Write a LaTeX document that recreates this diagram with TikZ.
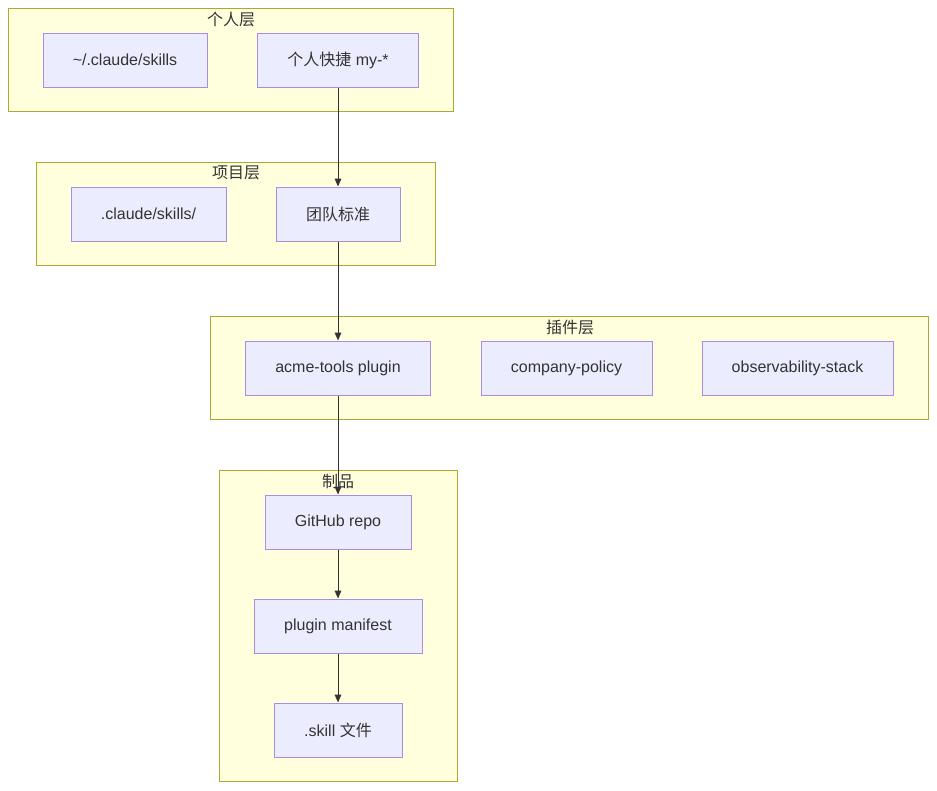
\documentclass[tikz,border=0pt]{standalone}
\usepackage{fontspec}
\setmainfont{Liberation Sans}
\newfontfamily\cjk{Noto Sans CJK SC}
\usetikzlibrary{arrows.meta}
\definecolor{layerfill}{HTML}{FFFFDE}
\definecolor{layerline}{HTML}{AAAA33}
\definecolor{boxfill}{HTML}{ECECFF}
\definecolor{boxline}{HTML}{9370DB}
\definecolor{ink}{HTML}{333333}
\tikzset{
	layer/.style={draw=layerline,fill=layerfill,line width=0.75pt},
	layertitle/.style={text=ink,font=\cjk\fontsize{12}{14}\selectfont,inner sep=0pt},
	item/.style={draw=boxline!80,fill=boxfill,line width=0.75pt,text=ink,
		font=\fontsize{12}{14}\selectfont,minimum height=40.5pt,inner sep=0pt},
	link/.style={draw=ink,line width=0.75pt,-{Triangle[length=6pt,width=5pt]}}
}
\begin{document}
\begin{tikzpicture}[x=0.75pt,y=-0.75pt]
	\useasboundingbox (0,0) rectangle (937,790);
		% layers
		\draw[layer] (8,8) rectangle (453,111);
		\node[layertitle] (tpersonal) at (231,19) {个人层};
		\draw[layer] (36,162) rectangle (435,265);
		\node[layertitle] (tproject) at (236,173) {项目层};
		\draw[layer] (210,316) rectangle (928,419);
		\node[layertitle] (tplugin) at (570,327) {插件层};
		\draw[layer] (219,470) rectangle (457,781);
		\node[layertitle] (tartifact) at (338,481) {制品};
			% nodes
			\node[item,minimum width=123pt] (homeskills) at (125,60) {\textasciitilde/.claude/skills};
			\node[item,minimum width=120.75pt] (myshort) at (338,60) {{\cjk 个人快捷} my-*};
			\node[item,minimum width=116.25pt] (projskills) at (148.5,214) {.claude/skills/};
			\node[item,minimum width=93pt] (teamstd) at (338,214) {\cjk 团队标准};
			\node[item,minimum width=138.75pt] (acme) at (338,368) {acme-tools plugin};
			\node[item,minimum width=128.25pt] (policy) at (566.5,368) {company-policy};
			\node[item,minimum width=143.25pt] (observ) at (797.5,368) {observability-stack};
			\node[item,minimum width=109.5pt] (repo) at (338,522) {GitHub repo};
			\node[item,minimum width=126pt] (manifest) at (338,626) {plugin manifest};
			\node[item,minimum width=96pt] (skillfile) at (338,730) {.skill {\cjk 文件}};
				% links
				\draw[link] (myshort) -- (teamstd);
				\draw[link] (teamstd) -- (acme);
				\draw[link] (acme) -- (repo);
				\draw[link] (repo) -- (manifest);
				\draw[link] (manifest) -- (skillfile);
\end{tikzpicture}
\end{document}
